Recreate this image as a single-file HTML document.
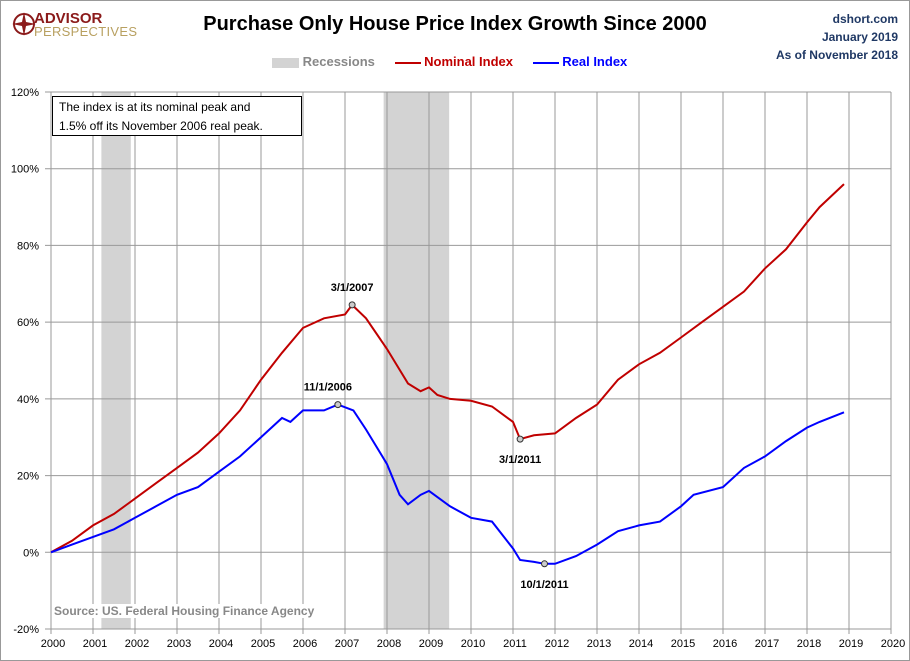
<!DOCTYPE html>
<html><head><meta charset="utf-8"><style>
body{margin:0;background:#fff;font-family:"Liberation Sans",sans-serif}
#wrap{position:relative;width:908px;height:659px;border:1px solid #999;overflow:hidden}
</style></head><body>
<div id="wrap">
<svg id="chart" width="908" height="659" xmlns="http://www.w3.org/2000/svg" font-family="Liberation Sans, sans-serif"></svg>
</div>
<script>
const recessions=[[2001.2,2001.9],[2007.92,2009.48]];
const yTicks=[-20,0,20,40,60,80,100,120];
const years=[2000,2001,2002,2003,2004,2005,2006,2007,2008,2009,2010,2011,2012,2013,2014,2015,2016,2017,2018,2019,2020];
const nomX=[2000,2000.5,2001,2001.5,2002,2002.5,2003,2003.5,2004,2004.5,2005,2005.5,2006,2006.5,2007,2007.17,2007.5,2008,2008.5,2008.8,2009,2009.2,2009.5,2010,2010.5,2011,2011.17,2011.5,2012,2012.5,2013,2013.5,2014,2014.5,2015,2015.5,2016,2016.5,2017,2017.5,2018,2018.3,2018.88];
const nomY=[0,3,7,10,14,18,22,26,31,37,45,52,58.5,61,62,64.5,61,53,44,42,43,41,40,39.5,38,34,29.5,30.5,31,35,38.5,45,49,52,56,60,64,68,74,79,86,90,96];
const realX=[2000,2000.5,2001,2001.5,2002,2002.5,2003,2003.5,2004,2004.5,2005,2005.5,2005.7,2006,2006.5,2006.83,2007.2,2007.5,2008,2008.3,2008.5,2008.8,2009,2009.5,2010,2010.5,2011,2011.17,2011.5,2011.75,2012,2012.5,2013,2013.5,2014,2014.5,2015,2015.3,2016,2016.5,2017,2017.5,2018,2018.3,2018.88];
const realY=[0,2,4,6,9,12,15,17,21,25,30,35,34,37,37,38.5,37,32,23,15,12.5,15,16,12,9,8,1,-2,-2.5,-3,-3,-1,2,5.5,7,8,12,15,17,22,25,29,32.5,34,36.5];
const marks=[[2007.17,64.5,"3/1/2007",0,-14],[2006.83,38.5,"11/1/2006",-10,-14],[2011.17,29.5,"3/1/2011",0,24],[2011.75,-3,"10/1/2011",0,24]];
const X0=50,XW=42,Y0=91,YH=537;
const xs=v=>X0+(v-2000)*XW, ys=v=>Y0+(120-v)/140*YH;
const svg=document.getElementById('chart'),NS="http://www.w3.org/2000/svg";
function el(t,a,txt){const e=document.createElementNS(NS,t);for(const k in a)e.setAttribute(k,a[k]);if(txt!==undefined)e.textContent=txt;svg.appendChild(e);return e;}
recessions.forEach(r=>{const e=el('rect',{x:xs(r[0]),y:Y0,width:xs(r[1])-xs(r[0]),height:YH,fill:'#d3d3d3'});

});
yTicks.forEach(t=>{const g=el('line',{x1:X0-6,x2:xs(2020),y1:ys(t),y2:ys(t),stroke:'#999','stroke-width':1});


const l=el('text',{x:X0-12,y:ys(t)+4,'text-anchor':'end','font-size':11,fill:'#000'},t+'%');

});
years.forEach(y=>{const g=el('line',{x1:xs(y),x2:xs(y),y1:Y0,y2:Y0+YH+5,stroke:'#999','stroke-width':1});


const l=el('text',{x:xs(y)+2,y:Y0+YH+18,'text-anchor':'middle','font-size':11,fill:'#000'},y);

});
function line(xa,ya,c,n){const d=xa.map((x,i)=>(i?'L':'M')+xs(x).toFixed(1)+','+ys(ya[i]).toFixed(1)).join('');
const p=el('path',{d:d,fill:'none',stroke:c,'stroke-width':2});

}
line(nomX,nomY,'#c00000','nominal-index-line');
line(realX,realY,'#0000ff','real-index-line');
marks.forEach(m=>{const c=el('circle',{cx:xs(m[0]),cy:ys(m[1]),r:3,fill:'#ccc',stroke:'#333'});


const t=el('text',{x:xs(m[0])+m[3],y:ys(m[1])+m[4],'text-anchor':'middle','font-size':11,'font-weight':'bold'},m[2]);

});
</script>
<div style="position:absolute;left:52px;top:96px;width:250px;height:40px;border:1px solid #000;background:#fff;font-size:12px;line-height:19px;padding:1px 0 0 6px;box-sizing:border-box">The index is at its nominal peak and<br>1.5% off its November 2006 real peak.</div>
<div style="position:absolute;left:54px;top:604px;font-size:12px;font-weight:bold;color:#888;background:#fff">Source: US. Federal Housing Finance Agency</div>
<div style="position:absolute;left:10px;top:8px">
<svg width="26" height="26" style="position:absolute;left:2px;top:4px"><circle cx="12" cy="12" r="10" fill="none" stroke="#8b1a1a" stroke-width="2"/><polygon points="12,0 14,10 24,12 14,14 12,24 10,14 0,12 10,10" fill="#8b1a1a"/></svg>
<div style="position:absolute;left:24px;top:2px;font-size:15px;font-weight:bold;color:#8b1a1a;white-space:nowrap">ADVISOR</div>
<div style="position:absolute;left:24px;top:16px;font-size:13px;color:#b8a060;white-space:nowrap;letter-spacing:0.3px">PERSPECTIVES</div>
</div>
<div style="position:absolute;left:0;width:910px;top:13px;text-align:center;font-size:20px;font-weight:bold">Purchase Only House Price Index Growth Since 2000</div>
<div style="position:absolute;right:12px;top:10px;text-align:right;font-size:12px;font-weight:bold;color:#1f3864;line-height:18px">dshort.com<br>January 2019<br>As of November 2018</div>
<div style="position:absolute;top:54px;left:272px;font-size:13px;font-weight:bold;white-space:nowrap">
<span style="display:inline-block;width:27px;height:10px;background:#d3d3d3;vertical-align:middle"></span> <span style="color:#888">Recessions</span>
<span style="display:inline-block;width:26px;height:2px;background:#c00000;vertical-align:middle;margin-left:16px"></span> <span style="color:#c00000">Nominal Index</span>
<span style="display:inline-block;width:26px;height:2px;background:#0000ff;vertical-align:middle;margin-left:16px"></span> <span style="color:#0000ff">Real Index</span>
</div>
</body></html>
